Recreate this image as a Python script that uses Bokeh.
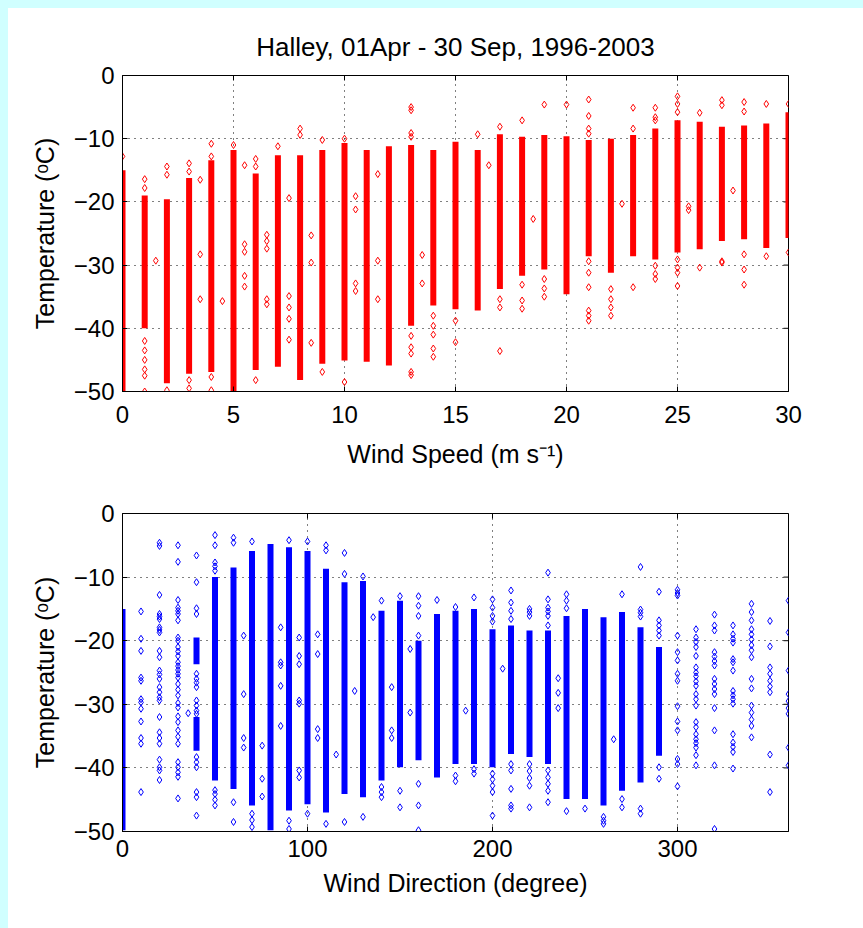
import math
from bokeh.plotting import figure
from bokeh.models import FixedTicker, Range1d, Spacer
from bokeh.layouts import column, row
from bokeh.embed import file_html
from bokeh.resources import INLINE

# ---------------- data ----------------
title_text = "Halley, 01Apr - 30 Sep, 1996-2003"
ylabel = "Temperature (\u1d52C)"
xlabel_top = "Wind Speed (m s\u207b\u00b9)"
xlabel_bottom = "Wind Direction (degree)"

y_min, y_max = -50, 0
speed_max = 30
dir_max = 360
y_ticks = [-50, -40, -30, -20, -10, 0]
speed_ticks = [0, 5, 10, 15, 20, 25, 30]
dir_ticks = [0, 100, 200, 300]

# Top panel: dense bands of observations per wind speed (m/s)
speed_band_x = list(range(0, 31))
speed_band_hi = [-15.0, -19.0, -19.6, -16.2, -13.4, -11.8, -15.5, -12.6, -12.6, -11.8,
                 -10.7, -11.8, -11.2, -11.0, -11.8, -10.5, -11.8, -9.3, -9.7, -9.4,
                 -9.6, -10.2, -10.0, -9.4, -8.4, -7.1, -7.3, -8.1, -7.9, -7.6, -5.8]
speed_band_lo = [-50.0, -40.0, -48.7, -47.2, -46.9, -50.0, -46.6, -46.1, -48.2, -45.6,
                 -45.1, -45.3, -45.9, -39.6, -36.4, -37.0, -37.2, -33.8, -31.7, -30.7,
                 -34.6, -28.6, -31.2, -28.6, -29.1, -28.0, -27.5, -26.2, -25.9, -27.3, -25.7]

# Top panel: scattered individual observations
speed_pt_x = [0,
              1, 1, 1, 1, 1, 1, 1, 1,
              2, 2, 2,
              3, 3, 3, 3,
              4, 4, 4, 4,
              5,
              6, 6, 6,
              7,
              8, 8,
              9, 9,
              10, 10,
              13, 13, 13, 13, 13, 13, 13, 13, 13,
              14, 14, 14, 14, 14,
              15, 15,
              16,
              17, 17, 17, 17,
              18, 18, 18, 18,
              19, 19, 19, 19,
              20,
              21, 21, 21, 21, 21, 21, 21, 21, 21, 21,
              22, 22, 22, 22,
              23, 23, 23,
              24, 24, 24, 24, 24, 24,
              25, 25, 25, 25, 25, 25, 25,
              26, 26,
              27, 27, 27, 27,
              28, 28, 28, 28, 28,
              29, 29,
              30, 30,
              1.5,
              3.5, 3.5, 3.5,
              4.5,
              5.5, 5.5, 5.5, 5.5, 5.5,
              6.5, 6.5, 6.5, 6.5, 6.5,
              7.5, 7.5, 7.5, 7.5, 7.5,
              8.5, 8.5, 8.5,
              10.5, 10.5, 10.5, 10.5,
              11.5, 11.5, 11.5,
              13.5, 13.5,
              16.5, 18.5, 22.5, 25.5, 25.5, 27.5]
speed_pt_t = [-12.8,
              -16.4, -17.8, -42.0, -43.5, -45.0, -46.5, -47.5, -50.0,
              -14.4, -15.7, -49.8,
              -13.9, -15.2, -48.2, -49.5,
              -10.8, -12.8, -47.7, -49.8,
              -11.0,
              -13.2, -14.4, -48.2,
              -11.2,
              -8.4, -9.4,
              -10.2, -46.9,
              -10.0, -48.5,
              -5.0, -5.5, -9.1, -9.7, -41.2, -43.0, -44.0, -46.9, -47.4,
              -38.0, -39.6, -41.0, -43.2, -44.5,
              -38.8, -42.2,
              -9.3,
              -8.1, -35.4, -36.7, -43.6,
              -7.1, -33.1, -35.6, -36.9,
              -4.6, -32.2, -33.7, -35.0,
              -4.6,
              -3.8, -6.4, -8.4, -9.2, -29.4, -31.2, -33.5, -37.2, -38.0, -38.8,
              -33.8, -35.4, -36.7, -38.0,
              -5.1, -8.4, -33.5,
              -5.1, -6.6, -7.1, -30.1, -31.4, -32.2,
              -3.3, -4.5, -5.8, -29.1, -30.4, -31.2, -33.3,
              -5.9, -30.4,
              -3.9, -4.7, -29.4, -29.6,
              -4.2, -5.7, -28.3, -30.7, -33.1,
              -4.5, -28.6,
              -4.5, -28.0,
              -29.3,
              -16.5, -28.3, -35.4,
              -35.7,
              -14.2, -26.7, -27.9, -31.7, -33.4,
              -25.2, -26.2, -27.4, -35.4, -36.2,
              -19.4, -34.9, -36.7, -38.5, -41.8,
              -25.3, -29.6, -42.3,
              -19.1, -21.2, -32.9, -34.1,
              -15.6, -29.3, -35.4,
              -28.4, -32.9,
              -14.2, -22.7, -20.3, -20.7, -21.3, -18.2]

# Bottom panel: dense bands per wind direction (degree)
dir_band_x = [0, 40, 40, 50, 60, 70, 80, 90, 100, 110, 120, 130, 140, 150, 160, 170, 180,
              190, 200, 210, 220, 230, 240, 250, 260, 270, 280, 290]
dir_band_hi = [-15.0, -19.5, -32.0, -10.0, -8.5, -5.9, -4.8, -5.3, -5.9, -8.7, -10.8, -10.6,
               -15.3, -13.7, -20.0, -15.8, -15.3, -15.0, -18.2, -17.6, -18.4, -18.4, -16.1,
               -15.0, -16.3, -15.5, -17.9, -21.0]
dir_band_lo = [-49.8, -23.7, -37.3, -42.0, -43.3, -45.9, -49.8, -46.7, -45.7, -47.0, -44.1,
               -44.6, -42.0, -39.9, -38.8, -41.5, -39.4, -39.4, -39.9, -37.8, -38.3, -39.4,
               -44.9, -44.9, -45.9, -43.6, -42.3, -38.1]

# Bottom panel: scattered individual observations
dir_pt_x = ([10] * 12 + [20] * 26 + [30] * 32 + [40] * 18 + [50] * 9 + [60] * 4 + [70] * 4
            + [90] * 3 + [100] * 2 + [110] * 3 + [120] * 3 + [130] * 2 + [140] * 4 + [150] * 3
            + [160] * 7 + [170] * 1 + [180] * 3 + [190] * 3 + [200] * 9 + [210] * 9 + [220] * 8
            + [230] * 11 + [240] * 4 + [250] * 1 + [260] * 3 + [270] * 3 + [280] * 6 + [290] * 7
            + [300] * 14 + [310] * 21 + [320] * 15 + [330] * 16 + [340] * 16 + [350] * 9
            + [360] * 9
            + [35.5] + [65.5] * 4 + [75.5] * 3 + [85.5] * 5 + [95.5] * 7 + [105.5] * 4
            + [115.5] + [125.5] + [135.5] + [145.5] * 3 + [155.5] * 2 + [185.5] + [205.5]
            + [235.5] * 3 + [265.5])
dir_pt_t = [
    # 10
    -15.4, -19.7, -21.6, -25.8, -26.3, -29.2, -29.7, -30.7, -32.7, -35.3, -36.2, -43.8,
    # 20
    -4.6, -5.1, -12.8, -15.8, -16.2, -16.6, -17.9, -18.3, -18.7, -21.6, -22.6, -24.7, -25.3,
    -26.0, -27.3, -28.1, -28.9, -29.4, -32.0, -34.4, -35.3, -36.2, -38.7, -39.9, -40.4, -41.9,
    # 30
    -5.0, -7.6, -13.6, -14.8, -15.3, -15.8, -16.8, -19.5, -20.0, -21.0, -21.7, -22.4, -23.4,
    -24.0, -24.6, -25.2, -25.8, -26.8, -27.7, -28.6, -29.8, -30.5, -31.9, -32.8, -34.1, -35.1,
    -36.2, -39.1, -39.9, -40.7, -41.4, -44.8,
    # 40
    -6.6, -10.8, -14.9, -15.8, -25.2, -26.0, -26.6, -27.3, -29.4, -30.2, -31.0, -31.5, -38.3,
    -39.1, -39.9, -43.8, -44.6, -47.5,
    # 50
    -3.4, -5.0, -7.7, -8.3, -9.0, -43.5, -44.1, -45.0, -45.9,
    # 60
    -3.8, -4.6, -45.4, -48.5,
    # 70
    -4.4, -47.2, -48.2, -49.3,
    # 90
    -4.2, -48.3, -49.6,
    # 100
    -4.4, -47.2,
    # 110
    -5.0, -5.8, -48.8,
    # 120
    -6.2, -9.5, -48.5,
    # 130
    -9.9, -47.7,
    # 140
    -13.7, -43.0, -43.8, -44.6,
    # 150
    -13.0, -43.6, -46.2,
    # 160
    -13.0, -14.5, -16.1, -19.2, -42.5, -45.9, -49.8,
    # 170
    -13.6,
    # 180
    -14.7, -41.2, -42.1,
    # 190
    -13.2, -40.2, -40.9,
    # 200
    -13.5, -14.8, -16.1, -17.0, -40.9, -41.8, -42.8, -43.8, -47.5,
    # 210
    -12.1, -14.0, -15.3, -16.6, -39.4, -40.4, -43.3, -45.9, -46.4,
    # 220
    -15.0, -15.5, -16.1, -39.4, -40.5, -41.6, -42.8, -46.2,
    # 230
    -9.3, -13.5, -14.8, -15.4, -16.1, -17.6, -40.4, -41.5, -42.5, -43.6, -45.4,
    # 240
    -12.7, -13.7, -14.9, -46.8,
    # 250
    -46.4,
    # 260
    -47.7, -48.3, -48.8,
    # 270
    -12.7, -44.9, -46.2,
    # 280
    -8.4, -15.1, -15.6, -16.2, -46.4, -47.2,
    # 290
    -12.3, -16.8, -17.6, -18.4, -19.2, -39.9, -41.7,
    # 300
    -12.0, -12.5, -12.9, -19.2, -21.8, -23.1, -25.2, -26.3, -30.3, -32.7, -34.1, -38.6, -39.4,
    -42.9,
    # 310
    -18.2, -19.5, -20.2, -21.0, -22.4, -24.2, -25.0, -25.6, -26.4, -27.1, -28.4, -29.2, -30.2,
    -32.8, -33.6, -34.7, -35.5, -36.1, -36.8, -38.0, -39.6,
    # 320
    -15.9, -17.6, -18.4, -21.8, -22.5, -23.2, -23.9, -26.0, -26.8, -27.6, -28.4, -30.6, -34.1,
    -39.6, -49.6,
    # 330
    -17.6, -19.0, -19.7, -20.3, -22.9, -23.4, -24.7, -27.9, -28.6, -29.2, -29.9, -34.7, -36.0,
    -36.7, -37.5, -40.1,
    # 340
    -14.2, -15.5, -16.8, -18.2, -19.0, -19.8, -20.7, -21.5, -22.6, -26.0, -27.5, -30.2, -31.3,
    -32.4, -33.4, -35.2,
    # 350
    -16.9, -20.9, -24.2, -25.2, -26.3, -27.2, -28.1, -37.9, -43.8,
    # 360
    -13.7, -18.7, -24.7, -28.4, -29.5, -30.6, -31.5, -36.8, -39.6,
    # off-grid directions
    -31.4,
    -19.2, -28.4, -35.3, -36.8,
    -36.5, -41.7, -44.5,
    -17.9, -23.4, -23.9, -27.1, -33.4,
    -19.5, -22.4, -23.7, -29.4, -29.9, -40.4, -41.5,
    -19.0, -22.1, -33.9, -35.3,
    -37.9,
    -27.9,
    -16.3,
    -27.3, -34.1, -35.3,
    -21.3, -31.3,
    -31.0,
    -24.4,
    -25.9, -28.2, -30.6,
    -35.5,
]

# ---------------- styling ----------------
FONT = "Liberation Sans"
RED = "#ff0000"
BLUE = "#0000ff"
BG = "#d0ffff"


def style_axis(ax, ticks):
    ax.ticker = FixedTicker(ticks=ticks)
    ax.major_tick_in = 5
    ax.major_tick_out = 0
    ax.minor_tick_in = 0
    ax.minor_tick_out = 0
    ax.axis_line_color = "black"
    ax.major_tick_line_color = "black"
    ax.major_label_text_font = FONT
    ax.major_label_text_color = "black"
    ax.major_label_text_font_size = "24px"
    ax.axis_label_text_font = FONT
    ax.axis_label_text_font_style = "normal"
    ax.axis_label_text_color = "black"
    ax.axis_label_text_font_size = "25px"


def make_panel(height, top, bottom, xmax, xticks, xlabel, tick_sd, label_sd, title=None):
    p = figure(width=855, height=height, output_backend="svg", toolbar_location=None,
               x_range=Range1d(0, xmax), y_range=Range1d(y_min, y_max),
               min_border_left=114, min_border_right=75,
               min_border_top=top, min_border_bottom=bottom)
    p.background_fill_color = "white"
    p.border_fill_color = "white"
    p.outline_line_color = "black"
    p.outline_line_width = 1
    p.outline_line_alpha = 1.0

    style_axis(p.xaxis[0], xticks)
    style_axis(p.yaxis[0], y_ticks)
    p.xaxis[0].axis_label = xlabel
    p.yaxis[0].axis_label = ylabel
    p.xaxis[0].major_label_standoff = tick_sd
    p.xaxis[0].axis_label_standoff = label_sd
    p.yaxis[0].major_label_standoff = 8
    p.yaxis[0].axis_label_standoff = 12

    for g, t in ((p.xgrid[0], xticks), (p.ygrid[0], y_ticks)):
        g.ticker = FixedTicker(ticks=t)
        g.grid_line_color = "black"
        g.grid_line_dash = "1 5"
        g.grid_line_width = 1
        g.grid_line_alpha = 1.0

    # inward tick marks on the top and right edges of the box (clipped to the frame)
    p.scatter(x=xticks, y=[y_max] * len(xticks), marker="dash", angle=math.pi / 2,
              size=10, line_color="black", line_width=1)
    p.scatter(x=[xmax] * len(y_ticks), y=y_ticks, marker="dash", angle=0,
              size=10, line_color="black", line_width=1)

    if title:
        p.title.text = title
        p.title.text_font = FONT
        p.title.text_font_size = "26px"
        p.title.text_font_style = "normal"
        p.title.text_color = "black"
        p.title.align = "center"
        p.title.standoff = 27
    return p


p1 = make_panel(462, 67, 77, speed_max, speed_ticks, xlabel_top, 14, 14, title=title_text)
p1.segment(x0=speed_band_x, y0=speed_band_lo, x1=speed_band_x, y1=speed_band_hi,
           line_color=RED, line_width=6)
p1.scatter(x=speed_pt_x, y=speed_pt_t, marker="diamond", size=7,
           line_color=RED, fill_color=None, line_width=1)

p2 = make_panel(458, 43, 97, dir_max, dir_ticks, xlabel_bottom, 8, 9)
p2.segment(x0=dir_band_x, y0=dir_band_lo, x1=dir_band_x, y1=dir_band_hi,
           line_color=BLUE, line_width=6)
p2.scatter(x=dir_pt_x, y=dir_pt_t, marker="diamond", size=7,
           line_color=BLUE, fill_color=None, line_width=1)

plots = column(p1, p2, spacing=0, styles={"background-color": "white"})
layout = row(Spacer(width=8), column(Spacer(height=8), plots))

html = file_html(layout, INLINE)
css = "<style>html, body { background-color: %s !important; margin: 0; }</style>" % BG
html = html.replace("</head>", css + "\n</head>", 1)
open("out.html", "w").write(html)
